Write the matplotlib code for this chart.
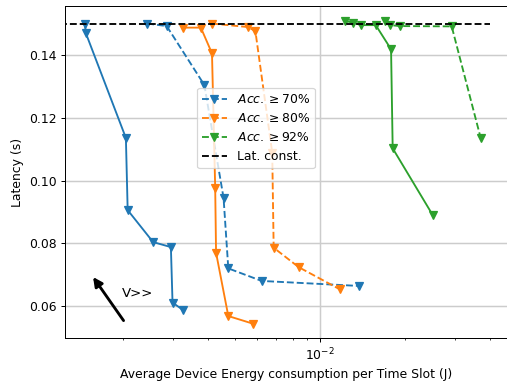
import numpy as np
import matplotlib
matplotlib.use('Agg')
import matplotlib.pyplot as plt

# energy (J) / latency (s)
blue_solid_x = [1.468e-3, 1.476e-3, 2.05e-3, 2.08e-3, 2.56e-3, 2.96e-3, 3.00e-3, 3.26e-3]
blue_solid_y = [0.1501, 0.1472, 0.1136, 0.0906, 0.0804, 0.0788, 0.0611, 0.0588]
blue_dash_x = [2.44e-3, 2.86e-3, 3.89e-3, 4.55e-3, 4.73e-3, 6.21e-3, 1.378e-2]
blue_dash_y = [0.1501, 0.1493, 0.1305, 0.0945, 0.0720, 0.0680, 0.0664]

orange_solid_x = [3.27e-3, 3.78e-3, 4.14e-3, 4.25e-3, 4.28e-3, 4.73e-3, 5.77e-3]
orange_solid_y = [0.1488, 0.1488, 0.1406, 0.0977, 0.0770, 0.0568, 0.0544]
orange_dash_x = [4.13e-3, 5.54e-3, 5.90e-3, 6.77e-3, 6.85e-3, 8.40e-3, 1.177e-2]
orange_dash_y = [0.1501, 0.1490, 0.1477, 0.1089, 0.0786, 0.0724, 0.0653]

green_solid_x = [1.226e-2, 1.312e-2, 1.398e-2, 1.576e-2, 1.786e-2, 1.81e-2, 2.51e-2]
green_solid_y = [0.1509, 0.1504, 0.1496, 0.1496, 0.1419, 0.1103, 0.0890]
green_dash_x = [1.70e-2, 1.77e-2, 1.92e-2, 2.93e-2, 3.715e-2]
green_dash_y = [0.1509, 0.1496, 0.1493, 0.1492, 0.1135]

lat_const = 0.15
lat_x = [1.2e-3, 4.0e-2]

labels = [r'$Acc. \geq 70\%$', r'$Acc. \geq 80\%$', r'$Acc. \geq 92\%$', 'Lat. const.']

dpi = 89.4
fig = plt.figure(figsize=(507 / dpi, 387 / dpi), dpi=dpi)
ax = fig.add_axes([65 / 507, 49 / 387, 443 / 507, 332 / 387])

ax.plot(blue_solid_x, blue_solid_y, '-v', color='tab:blue')
ax.plot(blue_dash_x, blue_dash_y, '--v', color='tab:blue', label=labels[0])
ax.plot(orange_solid_x, orange_solid_y, '-v', color='tab:orange')
ax.plot(orange_dash_x, orange_dash_y, '--v', color='tab:orange', label=labels[1])
ax.plot(green_solid_x, green_solid_y, '-v', color='tab:green')
ax.plot(green_dash_x, green_dash_y, '--v', color='tab:green', label=labels[2])
ax.plot(lat_x, [lat_const, lat_const], '--', color='black', label=labels[3])

ax.set_xscale('log')
ax.set_xlim(1.247e-3, 4.64e-2)
ax.set_ylim(0.0498, 0.1557)
ax.grid(True, color='#cccccc', lw=1.2)

ax.set_xlabel('Average Device Energy consumption per Time Slot (J)')
ax.set_ylabel('Latency (s)')

# direction hint
ax.annotate('', xy=(1.55e-3, 0.0699), xytext=(2.035e-3, 0.0547),
            arrowprops=dict(arrowstyle='-|>', lw=2.3, color='black', mutation_scale=15))
ax.text(1.98e-3, 0.0641, 'V>>', fontsize=10.8, ha='left', va='center')

ax.legend(loc='upper left', bbox_to_anchor=(0.284, 0.772))

plt.savefig('out.png', dpi=dpi)
plt.close('all')
